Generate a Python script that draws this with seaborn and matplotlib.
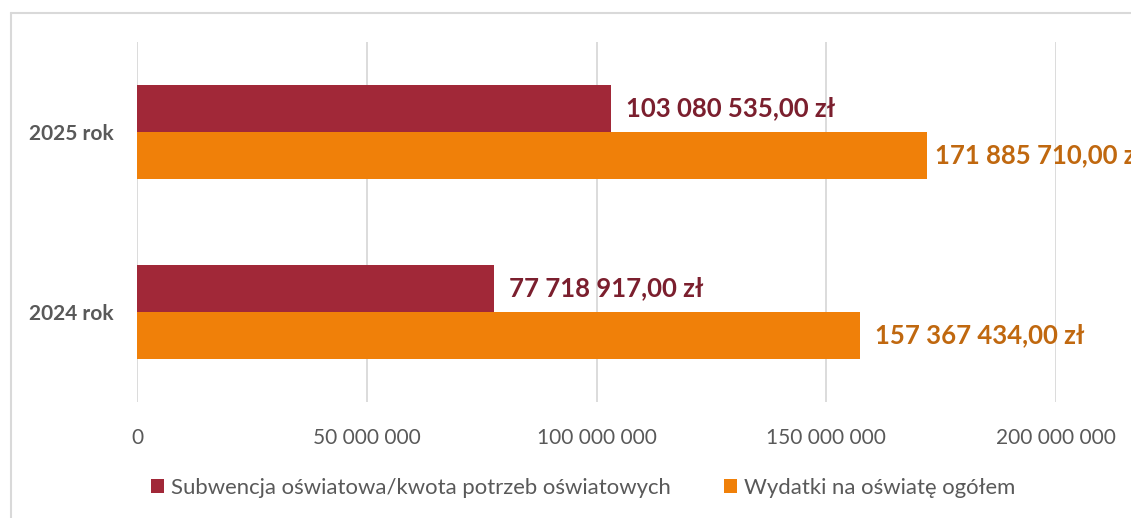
import matplotlib
matplotlib.use("Agg")
import matplotlib.pyplot as plt
import seaborn as sns
import pandas as pd
from matplotlib.patches import Patch
from matplotlib.lines import Line2D

categories = ["2025 rok", "2024 rok"]
series_names = ["Subwencja oświatowa/kwota potrzeb oświatowych", "Wydatki na oświatę ogółem"]
subwencja = [103080535.00, 77718917.00]
wydatki = [171885710.00, 157367434.00]
x_ticks = [0, 50000000, 100000000, 150000000, 200000000]
x_tick_labels = ["0", "50 000 000", "100 000 000", "150 000 000", "200 000 000"]

bar_colors = ["#A12838", "#F08009"]
label_colors = ["#7B1F2E", "#C0680F"]

df = pd.DataFrame({
    "kategoria": categories * 2,
    "seria": [series_names[0]] * 2 + [series_names[1]] * 2,
    "wartosc": subwencja + wydatki,
})

sns.set_theme(style="white")
plt.rcParams["font.family"] = ["Lato", "DejaVu Sans"]

fig = plt.figure(figsize=(11.31, 5.18), dpi=100)
W, H = 1131, 518
ax = fig.add_axes([137 / W, 1 - 402 / H, (1056 - 137) / W, (402 - 42) / H])

sns.barplot(data=df, y="kategoria", x="wartosc", hue="seria", order=categories,
            hue_order=series_names, palette=bar_colors, orient="h", width=0.52,
            gap=0, saturation=1, ax=ax, legend=False, edgecolor="none")

ax.set_xlim(0, 200000000)
ax.set_ylim(1.5, -0.5)
ax.set_xticks(x_ticks)
ax.set_xticklabels(x_tick_labels, fontsize=15, color="#595959")
ax.tick_params(axis="x", length=0, pad=19)
ax.tick_params(axis="y", length=0, pad=17)
for lbl in ax.get_yticklabels():
    lbl.set_fontweight("bold")
    lbl.set_fontsize(15)
    lbl.set_color("#595959")
ax.set_xlabel("")
ax.set_ylabel("")
ax.grid(axis="x", color="#D9D9D9", linewidth=1.3)
ax.set_axisbelow(True)
for s in ax.spines.values():
    s.set_visible(False)

fmt = lambda v: "{:,.2f}".format(v).replace(",", " ").replace(".", ",") + " zł"
for i, cont in enumerate(ax.containers):
    texts = ax.bar_label(cont, labels=[fmt(v) for v in cont.datavalues], padding=11,
                         fontsize=18.5, fontweight="bold", color=label_colors[i], clip_on=False)
    if i == 1:
        texts[0].xyann = (6, 0)

handles = [Patch(facecolor=c, edgecolor="none") for c in bar_colors]
fig.legend(handles, series_names, loc="center", bbox_to_anchor=(583 / W, 1 - 488 / H),
           ncol=2, frameon=False, fontsize=15.9, handlelength=0.6, handleheight=0.6,
           handletextpad=0.3, columnspacing=2.4, labelcolor="#595959")

# chart area border
fig.add_artist(Line2D([10.5 / W, 10.5 / W], [0, 1 - 13 / H], color="#D9D9D9", linewidth=1.5))
fig.add_artist(Line2D([10.5 / W, 1], [1 - 13 / H, 1 - 13 / H], color="#D9D9D9", linewidth=1.5))

fig.savefig("out.png", dpi=100)
